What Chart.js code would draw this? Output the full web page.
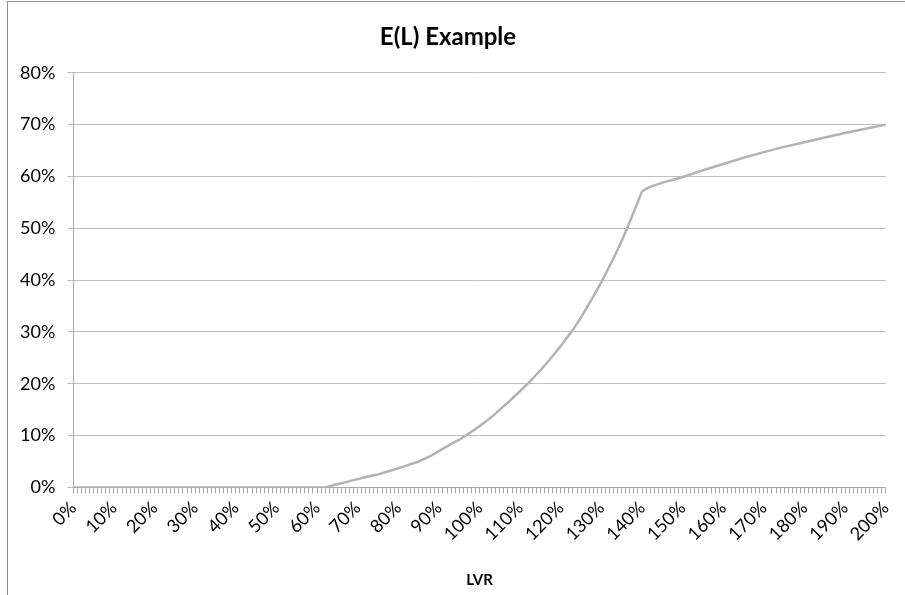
<!DOCTYPE html>
<html>
<head>
<meta charset="utf-8">
<script src="https://cdn.jsdelivr.net/npm/chart.js@4.4.1/dist/chart.umd.min.js"></script>
<style>
  html, body { margin: 0; padding: 0; background: #fff; }
  #frame { position: absolute; left: 7px; top: 1px; width: 910px; height: 610px; border-left: 1px solid #8c8c8c; border-top: 1px solid #8c8c8c; }
  #wrap { position: absolute; left: 0; top: 0; width: 905px; height: 595px; }
</style>
</head>
<body>
<div id="frame"></div>
<div id="wrap"><canvas id="c" width="905" height="595"></canvas></div>
<script>
// LVR categories: 0% .. 200% in 1% steps
const categories = [];
for (let i = 0; i <= 200; i++) categories.push(i + '%');

// Labelled ticks shown on the x axis
const xTickLabels = ['0%','10%','20%','30%','40%','50%','60%','70%','80%','90%','100%',
  '110%','120%','130%','140%','150%','160%','170%','180%','190%','200%'];

// Y-axis tick labels
const yTickLabels = ['0%','10%','20%','30%','40%','50%','60%','70%','80%'];

// E(L) readings (LVR %, E(L) %)
const lvrPoints = [0, 62, 64, 66, 68, 70, 72, 75, 78, 80, 82, 85, 88, 90, 92, 95, 97, 100,
  103, 105, 108, 110, 112, 115, 117, 120, 123, 125, 128, 130, 133, 135, 136, 138, 140,
  141, 142, 145, 148, 150, 155, 160, 165, 170, 175, 180, 185, 190, 195, 200];
const elValues = [0, 0, 0.4, 0.8, 1.2, 1.6, 2.0, 2.5, 3.2, 3.7, 4.2, 5.0, 6.1, 7.0, 7.9, 9.2, 10.2, 11.8,
  13.6, 15.0, 17.1, 18.6, 20.1, 22.6, 24.4, 27.3, 30.4, 32.8, 36.8, 39.6, 44.2, 47.6, 49.4, 53.2, 57.1,
  57.6, 58.0, 58.8, 59.4, 59.9, 61.2, 62.4, 63.6, 64.7, 65.7, 66.6, 67.5, 68.4, 69.2, 70.0];

const seriesData = lvrPoints.map((x, i) => ({ x: x + '%', y: elValues[i] }));

const FONT = 'Lato, "Open Sans", sans-serif';

new Chart(document.getElementById('c'), {
  type: 'line',
  data: {
    labels: categories,
    datasets: [{
      label: 'E(L)',
      data: seriesData,
      borderColor: '#b3b3b3',
      borderWidth: 2.5,
      pointRadius: 0,
      tension: 0,
      fill: false
    }]
  },
  options: {
    responsive: false,
    animation: false,
    devicePixelRatio: 1,
    layout: { padding: { left: 8, right: 17, top: 4, bottom: 6 } },
    plugins: {
      legend: { display: false },
      tooltip: { enabled: false },
      title: {
        display: true,
        text: 'E(L) Example',
        color: '#000',
        font: { family: FONT, size: 24, weight: 'bold' },
        padding: { top: 19, bottom: 21 }
      }
    },
    scales: {
      x: {
        type: 'category',
        offset: false,
        grid: { drawOnChartArea: false, drawTicks: true, tickLength: 6, color: '#a6a6a6', lineWidth: 1 },
        border: { display: true, color: '#a6a6a6', width: 1 },
        ticks: {
          autoSkip: false,
          minRotation: 45,
          maxRotation: 45,
          padding: 4,
          color: '#000',
          font: { family: FONT, size: 18 },
          callback: function (val, idx) {
            const lab = categories[idx];
            return xTickLabels.includes(lab) ? lab : '';
          }
        },
        title: {
          display: true,
          text: 'LVR',
          color: '#000',
          font: { family: FONT, size: 15, weight: 'bold' },
          padding: { top: 22, bottom: 0 }
        }
      },
      y: {
        min: 0,
        max: 80,
        grid: { color: '#bfbfbf', lineWidth: 1, drawTicks: true, tickLength: 6 },
        border: { display: true, color: '#a6a6a6', width: 1 },
        ticks: {
          stepSize: 10,
          padding: 12,
          color: '#000',
          font: { family: FONT, size: 18 },
          callback: function (val) { return yTickLabels[Math.round(val / 10)]; }
        }
      }
    }
  }
});
</script>
</body>
</html>
